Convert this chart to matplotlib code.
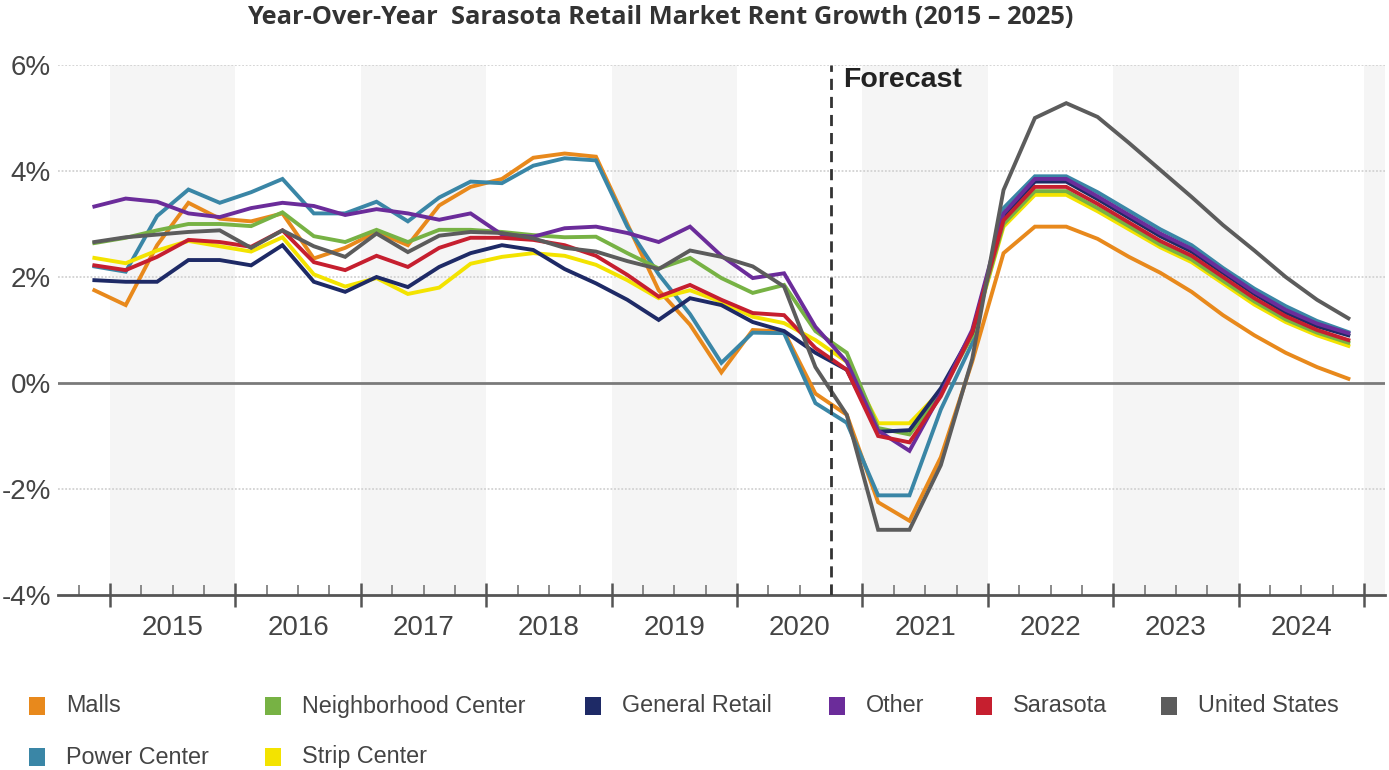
import matplotlib
matplotlib.use("Agg")
import matplotlib.pyplot as plt
import numpy as np
import pandas as pd
from matplotlib.patches import Rectangle
from matplotlib.ticker import FixedLocator

plt.rcParams["font.family"] = ["Liberation Sans", "DejaVu Sans"]

# quarterly points, 2014Q4 .. 2024Q4 (plotted at mid-quarter)
quarters = pd.period_range("2014Q4", "2024Q4", freq="Q")
years = list(range(2015, 2025))
forecast_start = 2020.75

malls = [1.75, 1.47, 2.6, 3.4, 3.1, 3.05, 3.2, 2.35, 2.55, 2.85,
         2.6, 3.35, 3.7, 3.85, 4.25, 4.33, 4.27, 3.0, 1.75, 1.1,
         0.2, 1.0, 0.97, -0.2, -0.6, -2.25, -2.6, -1.4, 0.4, 2.45,
         2.95, 2.95, 2.72, 2.38, 2.08, 1.72, 1.28, 0.9, 0.57, 0.3, 0.08]
power_center = [2.2, 2.1, 3.15, 3.65, 3.4, 3.6, 3.85, 3.2, 3.2, 3.42,
                3.05, 3.5, 3.8, 3.77, 4.1, 4.24, 4.2, 2.95, 2.05, 1.3,
                0.38, 0.95, 0.94, -0.38, -0.75, -2.12, -2.12, -0.5, 0.75, 3.3,
                3.9, 3.9, 3.6, 3.25, 2.9, 2.6, 2.17, 1.78, 1.45, 1.17, 0.96]
strip_center = [2.36, 2.26, 2.5, 2.68, 2.58, 2.48, 2.75, 2.05, 1.82, 1.98,
                1.68, 1.8, 2.25, 2.38, 2.45, 2.4, 2.23, 1.94, 1.6, 1.75,
                1.53, 1.25, 1.13, 0.81, 0.4, -0.76, -0.76, -0.15, 0.9, 2.95,
                3.55, 3.55, 3.24, 2.9, 2.56, 2.28, 1.88, 1.48, 1.15, 0.9, 0.7]
neighborhood = [2.64, 2.74, 2.88, 3.0, 3.0, 2.96, 3.22, 2.77, 2.66, 2.89,
                2.66, 2.89, 2.89, 2.85, 2.79, 2.75, 2.76, 2.45, 2.16, 2.36,
                1.98, 1.7, 1.85, 0.98, 0.57, -0.85, -0.97, -0.2, 0.9, 3.0,
                3.62, 3.62, 3.3, 2.96, 2.61, 2.33, 1.93, 1.54, 1.2, 0.95, 0.76]
general_retail = [1.94, 1.91, 1.91, 2.32, 2.32, 2.22, 2.6, 1.91, 1.72, 2.0,
                  1.81, 2.19, 2.45, 2.6, 2.51, 2.15, 1.88, 1.57, 1.19, 1.6,
                  1.47, 1.15, 0.98, 0.57, 0.25, -0.92, -0.89, -0.1, 0.95, 3.15,
                  3.8, 3.8, 3.47, 3.12, 2.77, 2.48, 2.08, 1.68, 1.33, 1.07, 0.9]
other = [3.33, 3.48, 3.42, 3.2, 3.13, 3.3, 3.4, 3.34, 3.17, 3.28,
         3.2, 3.08, 3.2, 2.8, 2.76, 2.92, 2.95, 2.83, 2.66, 2.95,
         2.4, 1.98, 2.07, 1.06, 0.4, -0.9, -1.28, -0.2, 1.0, 3.2,
         3.85, 3.85, 3.52, 3.17, 2.82, 2.53, 2.12, 1.72, 1.38, 1.12, 0.94]
sarasota = [2.22, 2.13, 2.38, 2.7, 2.66, 2.57, 2.88, 2.28, 2.13, 2.4,
            2.19, 2.55, 2.74, 2.74, 2.7, 2.6, 2.4, 2.04, 1.63, 1.85,
            1.57, 1.32, 1.28, 0.66, 0.25, -1.0, -1.12, -0.25, 0.95, 3.07,
            3.7, 3.7, 3.38, 3.03, 2.68, 2.4, 2.0, 1.6, 1.26, 1.0, 0.81]
united_states = [2.66, 2.75, 2.8, 2.85, 2.88, 2.55, 2.88, 2.58, 2.38, 2.82,
                 2.47, 2.78, 2.85, 2.83, 2.73, 2.55, 2.48, 2.3, 2.15, 2.5,
                 2.38, 2.2, 1.82, 0.3, -0.6, -2.77, -2.77, -1.55, 0.45, 3.64,
                 5.0, 5.28, 5.02, 4.53, 4.02, 3.51, 2.98, 2.5, 2.0, 1.57, 1.22]

series = [
    ("Malls", malls, "#E8891C"),
    ("Power Center", power_center, "#3A86A6"),
    ("Strip Center", strip_center, "#F3E300"),
    ("Neighborhood Center", neighborhood, "#77B244"),
    ("General Retail", general_retail, "#1E2A66"),
    ("Other", other, "#6B2C9A"),
    ("Sarasota", sarasota, "#C61F2F"),
    ("United States", united_states, "#5C5C5C"),
]
colors = {name: c for name, _, c in series}

x = np.array([q.year + (q.quarter - 1) / 4 + 0.125 for q in quarters])

W, H = 1389, 770
fig = plt.figure(figsize=(W / 100, H / 100), dpi=100)
ax = fig.add_axes([58 / W, 1 - 595 / H, (1385 - 58) / W, (595 - 65) / H])

# alternating year bands
for yr in range(2015, 2027, 2):
    ax.axvspan(yr, yr + 1, color="#F5F5F5", lw=0, zorder=0)

for v in [6, 4, 2, -2]:
    ax.axhline(v, color="#D2D2D2", lw=1.3, ls=(0, (1, 1)), zorder=1)
ax.axhline(0, color="#7A7A7A", lw=2, zorder=1)

for name, vals, c in series:
    ax.plot(x, vals, color=c, lw=2.8, zorder=3, solid_joinstyle="miter")

ax.axvline(forecast_start, color="#333333", lw=2, ls=(0, (4, 2.5)), zorder=4)
ax.text(forecast_start + 0.095, 5.97, "Forecast", fontsize=20.5, fontweight="bold",
        color="#222222", va="top", ha="left")

ax.set_xlim(2014.585, 2025.167)
ax.set_ylim(-4, 6)

for s in ["top", "right", "left"]:
    ax.spines[s].set_visible(False)
ax.spines["bottom"].set_color("#555555")
ax.spines["bottom"].set_linewidth(2)

ax.set_xticks(range(2015, 2026))
ax.set_xticklabels([])
quarter_marks = [q for q in np.arange(2014.75, 2025.1, 0.25) if q % 1 != 0]
ax.xaxis.set_minor_locator(FixedLocator(quarter_marks))
ax.tick_params(axis="x", which="major", direction="inout", length=17, width=1.8, color="#555555")
ax.tick_params(axis="x", which="minor", direction="in", length=7, width=1.2, color="#777777")

for yr in years:
    ax.text(yr + 0.5, -0.062, str(yr), transform=ax.get_xaxis_transform(),
            ha="center", va="center", fontsize=20, color="#444444")

ax.set_yticks([-4, -2, 0, 2, 4, 6], ["-4%", "-2%", "0%", "2%", "4%", "6%"])
ax.tick_params(axis="y", length=0, pad=5, labelsize=20, labelcolor="#444444")

fig.text(660 / W, 1 - 18 / H,
         "Year-Over-Year  Sarasota Retail Market Rent Growth (2015 \u2013 2025)",
         ha="center", va="center", fontsize=18.3, fontweight="bold",
         family=["Open Sans", "DejaVu Sans"], color="#333333")

# legend, laid out as in the source (two rows)
legend_rows = [
    [("Malls", 66), ("Neighborhood Center", 302), ("General Retail", 622),
     ("Other", 866), ("Sarasota", 1013), ("United States", 1198)],
    [("Power Center", 66), ("Strip Center", 302)],
]
for row_y, row in zip([706, 757], legend_rows):
    for name, tx in row:
        fig.patches.append(Rectangle(((tx - 37) / W, 1 - (row_y + 9) / H), 16 / W, 18 / H,
                                     transform=fig.transFigure, color=colors[name], lw=0))
        fig.text(tx / W, 1 - row_y / H, name, ha="left", va="center",
                 fontsize=16.8, color="#444444")

fig.savefig("out.png", dpi=100)
